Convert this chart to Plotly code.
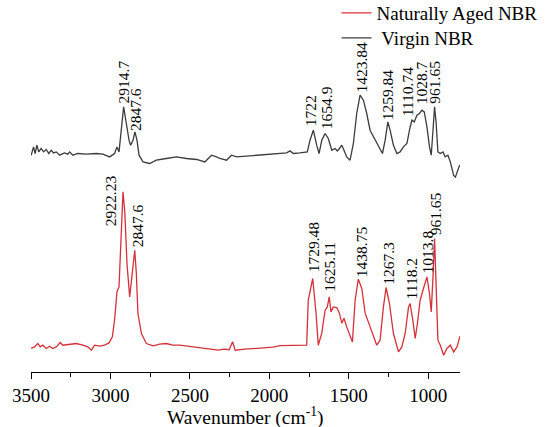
import numpy as np
import plotly.graph_objects as go

# ---------------- data ----------------
virgin_wn = [3499, 3484, 3474, 3463, 3451, 3436, 3421, 3404, 3388, 3373, 3358, 3341, 3320, 3289,
             3268, 3257, 3236, 3205, 3152, 3089, 3047, 3005, 2974, 2959, 2946, 2934, 2917, 2900,
             2883, 2873, 2858, 2846, 2833, 2820, 2795, 2753, 2711, 2648, 2585, 2521, 2458, 2406,
             2364, 2332, 2312, 2269, 2238, 2206, 2143, 2059, 1975, 1891, 1870, 1849, 1807, 1761,
             1744, 1723, 1702, 1687, 1670, 1649, 1629, 1607, 1586, 1572, 1559, 1544, 1530, 1513,
             1492, 1471, 1450, 1429, 1408, 1387, 1366, 1345, 1324, 1307, 1288, 1271, 1254, 1240,
             1219, 1197, 1177, 1156, 1134, 1118, 1103, 1088, 1071, 1055, 1040, 1025, 1008, 992,
             981, 970, 960, 950, 939, 924, 907, 893, 876, 861, 840, 829, 802]
virgin_int = [216.8, 225.1, 218.5, 226.8, 220.1, 223.5, 220.1, 222.5, 218.5, 221.8, 219.1, 220.1, 216.8, 219.1,
              217.8, 220.1, 216.8, 218.5, 217.8, 218.5, 217.8, 215.1, 218.5, 225.1, 220.1, 238.5, 265.1, 248.5,
              231.8, 226.8, 231.8, 240.1, 231.8, 216.8, 210.1, 208.5, 211.8, 213.5, 215.1, 213.5, 212.5, 210.1,
              216.8, 215.1, 213.5, 211.8, 216.8, 215.1, 215.8, 216.8, 217.8, 219.1, 221.1, 218.5, 219.1, 220.1,
              231.8, 241.8, 226.8, 218.5, 231.8, 238.5, 233.5, 221.8, 223.5, 221.1, 223.5, 226.8, 221.8, 215.1,
              211.8, 228.5, 258.5, 276.8, 271.8, 258.5, 241.8, 235.1, 230.1, 223.5, 218.5, 231.8, 250.1, 241.8,
              226.8, 218.5, 220.1, 225.1, 228.5, 241.8, 251.8, 250.1, 256.8, 258.5, 261.8, 260.1, 245.1, 225.1,
              216.8, 241.8, 265.1, 248.5, 220.1, 218.5, 220.1, 215.1, 216.8, 210.1, 196.5, 194.8, 207.0]

aged_wn = [3499, 3478, 3457, 3442, 3426, 3404, 3383, 3363, 3341, 3316, 3300, 3257, 3215, 3173,
           3142, 3120, 3100, 3068, 3037, 3009, 2988, 2974, 2959, 2946, 2931, 2921, 2909, 2896,
           2879, 2864, 2847, 2837, 2827, 2805, 2774, 2732, 2690, 2648, 2608, 2564, 2480, 2395,
           2322, 2286, 2253, 2231, 2215, 2154, 2066, 1977, 1933, 1851, 1765, 1755, 1727, 1706,
           1692, 1670, 1649, 1635, 1623, 1612, 1597, 1576, 1559, 1544, 1530, 1513, 1492, 1477,
           1460, 1440, 1418, 1397, 1377, 1355, 1324, 1303, 1282, 1265, 1244, 1219, 1187, 1166,
           1145, 1124, 1114, 1097, 1082, 1068, 1051, 1030, 1008, 992, 981, 970, 960, 950,
           939, 924, 903, 882, 861, 840, 819, 800]
aged_int = [23.5, 25.1, 28.5, 25.1, 26.8, 23.5, 25.8, 23.5, 25.1, 29.5, 26.8, 27.8, 28.5, 26.8,
            25.1, 21.8, 26.8, 25.8, 26.8, 29.1, 35.1, 51.8, 80.1, 85.1, 141.8, 180.1, 158.5, 108.5,
            75.1, 95.1, 121.8, 98.5, 58.5, 38.5, 28.5, 26.1, 27.8, 28.5, 26.8, 26.8, 25.1, 23.5,
            21.8, 22.8, 22.3, 30.3, 21.8, 22.8, 23.8, 24.8, 26.3, 26.3, 26.8, 71.8, 93.5, 58.8,
            26.8, 38.8, 61.8, 65.1, 75.1, 60.1, 65.1, 64.5, 58.8, 48.8, 53.8, 45.1, 35.1, 30.1,
            71.8, 92.8, 83.5, 58.8, 50.1, 40.1, 26.8, 31.8, 65.1, 84.5, 68.5, 38.5, 20.1, 25.1,
            38.5, 65.1, 68.5, 51.8, 33.5, 48.5, 71.8, 83.5, 95.1, 78.5, 60.1, 95.1, 133.5, 85.1,
            31.8, 26.8, 16.8, 23.5, 26.8, 20.1, 25.1, 35.8]

virgin_labels = ["2914.7", "2847.6", "1722", "1654.9", "1423.84", "1259.84", "1110.74", "1028.7", "961.65"]
aged_labels = ["2922.23", "2847.6", "1729.48", "1625.11", "1438.75", "1267.3", "1118.2", "1013.8", "961.65"]

x_ticks = [3500, 3000, 2500, 2000, 1500, 1000]
x_ticktext = ["3500", "3000", "2500", "2000", "1500", "1000"]
x_title = "Wavenumber (cm<sup>-1</sup>)"

# ---------------- style ----------------
RED = "#d4313b"
GRAY = "#3c3c3c"
FONT = "Times New Roman, Liberation Serif, Times, serif"

# pixel nudges for the peak labels (xshift, yshift)
label_nudge = {
    ("v", "2914.7"): (-1, 2), ("v", "2847.6"): (1, 0), ("v", "1722"): (-3, 3),
    ("v", "1654.9"): (2, 3), ("v", "1423.84"): (1, 2), ("v", "1259.84"): (0, 1),
    ("v", "1110.74"): (-3, 3), ("v", "1028.7"): (-2, 5), ("v", "961.65"): (0, 2),
    ("a", "2922.23"): (-12, -35), ("a", "2847.6"): (3, 2), ("a", "1729.48"): (1, 5),
    ("a", "1625.11"): (1, 4), ("a", "1438.75"): (3, 1), ("a", "1267.3"): (2, 2),
    ("a", "1118.2"): (2, 3), ("a", "1013.8"): (1, 2), ("a", "961.65"): (1, 2),
}

fig = go.Figure()
fig.add_trace(go.Scatter(x=aged_wn, y=aged_int, mode="lines", name="Naturally Aged NBR",
                         line=dict(color=RED, width=1.3), legend="legend"))
fig.add_trace(go.Scatter(x=virgin_wn, y=virgin_int, mode="lines", name="\u00a0Virgin NBR",
                         line=dict(color=GRAY, width=1.3), legend="legend2"))


def peak_height(wn, inten, target, win=12):
    wn = np.asarray(wn, float)
    inten = np.asarray(inten, float)
    m = np.abs(wn - target) <= win
    if m.any():
        return float(inten[m].max())
    return float(np.interp(target, wn[::-1], inten[::-1]))


annotations = []
for key, labels, wn, inten in (("v", virgin_labels, virgin_wn, virgin_int),
                               ("a", aged_labels, aged_wn, aged_int)):
    for lab in labels:
        xv = float(lab)
        yv = peak_height(wn, inten, xv)
        dx, dy = label_nudge.get((key, lab), (0, 0))
        annotations.append(dict(
            x=xv, y=yv, xref="x", yref="y", text=lab, showarrow=False,
            textangle=-90, xanchor="center", yanchor="bottom",
            xshift=dx, yshift=dy, borderpad=0,
            font=dict(family=FONT, size=15.5, color="black")))

# axis title drawn as a paper annotation so it can sit a bit lower, as in the reference
annotations.append(dict(x=0.5, y=0, xref="paper", yref="paper", text=x_title, showarrow=False,
                        xanchor="center", yanchor="middle", yshift=-44, borderpad=0,
                        font=dict(family=FONT, size=19.5, color="black")))

legend_common = dict(xref="container", yref="container", xanchor="left", yanchor="middle",
                     bgcolor="rgba(0,0,0,0)", borderwidth=0,
                     font=dict(family=FONT, size=19, color="black"))

fig.update_layout(
    width=549, height=427,
    font=dict(family=FONT, size=19, color="black"),
    margin=dict(l=31, r=89, t=0, b=55, autoexpand=False),
    paper_bgcolor="white", plot_bgcolor="white",
    showlegend=True,
    legend=dict(x=0.613, y=1 - 13 / 427, **legend_common),
    legend2=dict(x=0.613, y=1 - 38 / 427, **legend_common),
    annotations=annotations,
    xaxis=dict(range=[3500, 800], tickmode="array", tickvals=x_ticks, ticktext=x_ticktext,
               ticks="outside", ticklen=6,
               tickwidth=1, tickcolor="black", showline=True, linecolor="black",
               linewidth=1, showgrid=False, zeroline=False, mirror=False,
               tickfont=dict(family=FONT, size=19, color="black"),
               minor=dict(dtick=250, ticks="outside", ticklen=4, tickcolor="black", showgrid=False)),
    yaxis=dict(range=[0, 372], visible=False, fixedrange=True),
)

fig.write_html("out.html")
